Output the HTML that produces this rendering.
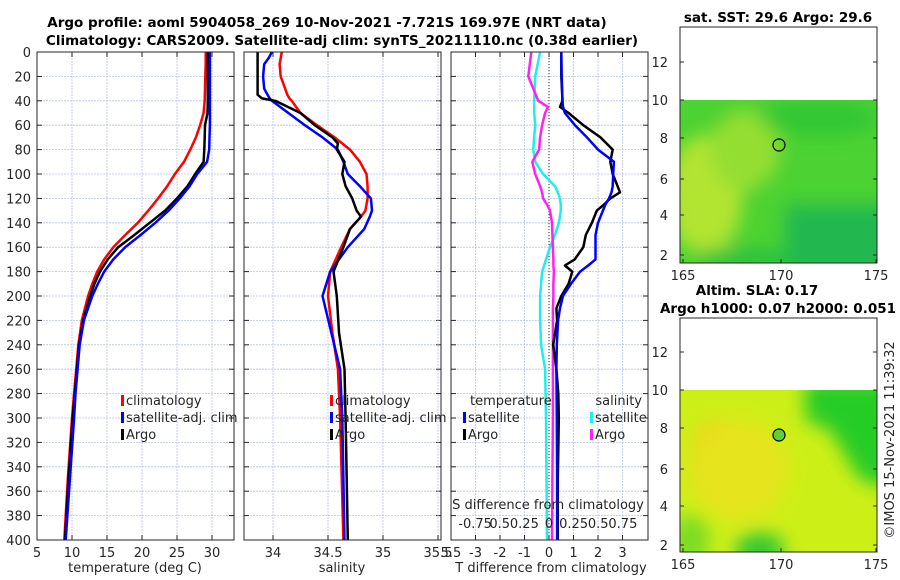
<!DOCTYPE html>
<html><head><meta charset="utf-8">
<style>
body{margin:0;background:#fff;}
svg{display:block;font-family:"DejaVu Sans","Liberation Sans",sans-serif;}
.t{font-size:13px;fill:#262626;}
.b{font-size:13.5px;font-weight:bold;fill:#000;}
</style></head>
<body>
<svg id="chart" width="900" height="580" viewBox="0 0 900 580">
<text class="b" x="327" y="27" text-anchor="middle">Argo profile: aoml 5904058_269 10-Nov-2021 -7.721S 169.97E (NRT data)</text>
<text class="b" x="342" y="45" text-anchor="middle">Climatology: CARS2009. Satellite-adj clim: synTS_20211110.nc (0.38d earlier)</text>
<g id="p1"></g>
<g id="p2"></g>
<g id="p3"></g>

<defs>
<filter id="bl" x="-20%" y="-20%" width="140%" height="140%"><feGaussianBlur stdDeviation="9"/></filter>
<clipPath id="c1"><rect x="680" y="100" width="197" height="163"/></clipPath>
<clipPath id="c2"><rect x="680" y="390" width="197" height="162"/></clipPath>
</defs>
<g>
<text class="b" x="778" y="22" text-anchor="middle">sat. SST: 29.6 Argo: 29.6</text>
<g clip-path="url(#c1)">
<rect x="680" y="100" width="197" height="163" fill="#4cd232"/>
<g filter="url(#bl)">
<ellipse cx="705" cy="195" rx="38" ry="60" fill="#b2e430"/>
<ellipse cx="745" cy="150" rx="35" ry="40" fill="#94de30"/>
<rect x="785" y="205" width="110" height="70" fill="#20b850"/>
<rect x="700" y="250" width="90" height="20" fill="#2cc040"/>
<ellipse cx="820" cy="118" rx="60" ry="18" fill="#30c834"/>
</g>
</g>
<rect x="680" y="27" width="197" height="236" fill="none" stroke="#262626" stroke-width="1"/>
<circle cx="779" cy="145" r="6" fill="none" stroke="#000" stroke-width="1.2"/>
</g>
<g>
<text class="b" x="757" y="295" text-anchor="middle">Altim. SLA: 0.17</text>
<text class="b" x="778" y="313" text-anchor="middle">Argo h1000: 0.07 h2000: 0.051</text>
<g clip-path="url(#c2)">
<rect x="680" y="390" width="197" height="162" fill="#cdef18"/>
<g filter="url(#bl)">
<ellipse cx="718" cy="465" rx="28" ry="45" fill="#f4cc1c"/>
<ellipse cx="740" cy="470" rx="48" ry="50" fill="#e6e41a"/>
<path d="M805,380 L900,380 L900,490 L860,480 L830,430 L805,420Z" fill="#28cc28"/>
<ellipse cx="760" cy="550" rx="25" ry="18" fill="#38c830"/>
<ellipse cx="690" cy="540" rx="20" ry="25" fill="#7cdc24"/>
</g>
</g>
<rect x="680" y="318" width="197" height="234" fill="none" stroke="#262626" stroke-width="1"/>
<circle cx="779" cy="435" r="6" fill="#5ed040" stroke="#000" stroke-width="1.2"/>
</g>
<text class="t" transform="translate(894,440) rotate(-90)" text-anchor="middle">©IMOS 15-Nov-2021 11:39:32</text>
</svg>
<script>
const NS='http://www.w3.org/2000/svg';
const svg=document.getElementById('chart');
const depthTicks=[0,20,40,60,80,100,120,140,160,180,200,220,240,260,280,300,320,340,360,380,400];
const tempTicks=[5,10,15,20,25,30];
const salTicks=[34,34.5,35,35.5];
const tdiffTicks=[-3,-2,-1,0,1,2,3];
const sdiffTickLabels=['-0.75','0.5','0.25','0','0.25','0.5','0.75'];

const depths=[0,10,20,30,40,50,60,70,80,90,100,110,120,130,140,150,160,170,180,190,200,220,240,260,280,300,350,400];
const tempClim=[29.1,29.1,29.05,29.0,28.95,28.8,28.3,27.7,26.9,26.0,24.7,23.6,22.3,20.9,19.4,17.6,15.9,14.6,13.6,12.9,12.3,11.4,10.9,10.6,10.3,10.0,9.4,8.9];
const tempSat=[29.7,29.7,29.7,29.7,29.7,29.7,29.7,29.65,29.6,29.3,27.9,26.8,25.4,23.8,21.9,19.8,17.6,15.9,14.6,13.7,12.9,11.7,11.1,10.8,10.5,10.3,9.7,9.1];
const tempArgo=[29.4,29.4,29.4,29.4,29.4,29.35,29.0,28.95,28.9,28.8,27.6,26.5,25.0,23.3,21.1,18.9,16.6,15.1,14.0,13.2,12.6,11.6,11.0,10.7,10.4,10.1,9.5,9.0];

const sDepths=[0,5,10,20,30,35,38,40,50,60,70,75,80,90,100,110,120,130,135,145,160,180,200,230,260,300,400];
const salClim=[34.08,34.07,34.06,34.07,34.11,34.13,34.15,34.17,34.25,34.40,34.56,34.63,34.70,34.79,34.85,34.86,34.86,34.84,34.80,34.70,34.62,34.52,34.50,34.54,34.59,34.61,34.64];
const salSat=[33.99,33.96,33.92,33.91,33.92,33.95,33.97,33.99,34.14,34.29,34.45,34.52,34.59,34.64,34.68,34.79,34.89,34.90,34.88,34.83,34.68,34.52,34.45,34.53,34.61,34.63,34.65];
const salArgo=[33.86,33.86,33.86,33.86,33.86,33.86,33.90,34.02,34.25,34.38,34.54,34.59,34.58,34.65,34.63,34.66,34.72,34.76,34.80,34.70,34.64,34.55,34.58,34.60,34.65,34.66,34.68];

const dDepths=[0,20,40,45,50,60,70,80,90,100,110,115,120,125,130,140,150,160,170,175,180,190,200,210,220,240,260,280,300,350,400];
const tdSat=[0.50,0.52,0.55,0.57,0.65,1.06,1.55,2.0,2.65,2.62,2.6,2.55,2.45,2.3,2.2,2.0,1.9,1.9,1.9,1.6,1.27,0.9,0.57,0.45,0.37,0.32,0.30,0.31,0.32,0.33,0.33];
const tdArgo=[0.5,0.5,0.55,0.45,0.8,1.4,2.1,2.6,2.5,2.6,2.8,2.9,2.5,2.25,1.95,1.75,1.5,1.4,1.05,0.65,0.95,0.8,0.5,0.3,0.33,0.17,0.3,0.38,0.4,0.36,0.36];
const sdSat=[-0.09,-0.14,-0.15,-0.15,-0.15,-0.14,-0.15,-0.16,-0.14,-0.06,0.06,0.09,0.11,0.12,0.12,0.10,0.06,0.01,-0.03,-0.05,-0.07,-0.08,-0.09,-0.09,-0.09,-0.08,-0.04,-0.035,-0.03,-0.025,-0.02];
const sdArgo=[-0.18,-0.21,-0.11,-0.01,-0.04,-0.07,-0.09,-0.10,-0.17,-0.14,-0.09,-0.07,-0.06,-0.02,0.01,0.03,0.035,0.04,0.045,0.045,0.05,0.045,0.045,0.04,0.04,0.04,0.04,0.04,0.04,0.035,0.03];

const Y0=52, Y1=540;
const yD=d=>Y0+(d-0)/(400-0)*(Y1-Y0);

function el(tag,attrs,parent){const e=document.createElementNS(NS,tag);for(const k in attrs)e.setAttribute(k,attrs[k]);(parent||svg).appendChild(e);return e;}

function frame(g,x0,x1,xt,showDepth){
  for(const d of depthTicks){
    const y=yD(d);
    const l=el('line',{x1:x0,x2:x1,y1:y,y2:y,stroke:'#b8c4dc','stroke-width':0.8,'stroke-dasharray':'2,1'},g);
    
    
    el('line',{x1:x0,x2:x0+5,y1:y,y2:y,stroke:'#262626'},g);
    el('line',{x1:x1-5,x2:x1,y1:y,y2:y,stroke:'#262626'},g);
    if(showDepth){const t=el('text',{x:x0-6,y:y+5,'text-anchor':'end',class:'t'},g);t.textContent=d;
      
      }
  }
  for(const x of xt){
    const l=el('line',{x1:x,x2:x,y1:Y0,y2:Y1,stroke:'#b8c4dc','stroke-width':0.8,'stroke-dasharray':'2,1'},g);
    
    
    el('line',{x1:x,x2:x,y1:Y1,y2:Y1-5,stroke:'#262626'},g);
    el('line',{x1:x,x2:x,y1:Y0,y2:Y0+5,stroke:'#262626'},g);
  }
}
function box(g,x0,x1){const r=el('rect',{x:x0,y:Y0,width:x1-x0,height:Y1-Y0,fill:'none',stroke:'#262626','stroke-width':1},g);
  
  }
function line(g,xs,ds,xf,color,name){
  const pts=xs.map((v,i)=>xf(v).toFixed(1)+','+yD(ds[i]).toFixed(1)).join(' ');
  const p=el('polyline',{points:pts,fill:'none',stroke:color,'stroke-width':2.5,'stroke-linejoin':'round'},g);
  
  
}
function txt(g,x,y,s,anchor,name){const t=el('text',{x:x,y:y,'text-anchor':anchor||'start',class:'t'},g);t.textContent=s;
  
  return t;}
function legendItem(g,x,y,color,label,name){
  const r=el('rect',{x:x,y:y-10,width:3,height:11,fill:color},g);
  
  
  txt(g,x+5,y,label,'start',name);
}

const p1=document.getElementById('p1');
const xT=v=>37+(v-5)*7;
frame(p1,37,234,tempTicks.map(xT),true);
line(p1,tempClim,depths,xT,'#ff0000','climatology-temp-line');
line(p1,tempArgo,depths,xT,'#000000','argo-temp-line');
line(p1,tempSat,depths,xT,'#0000ff','satellite-temp-line');
box(p1,37,234);
tempTicks.forEach(v=>txt(p1,xT(v),557,String(v),'middle','temp-tick-label'));
txt(p1,135,572,'temperature (deg C)','middle','temp-axis-title');
legendItem(p1,121,405,'#ff0000','climatology','legend-climatology');
legendItem(p1,121,422,'#0000ff','satellite-adj. clim','legend-satellite-adj');
legendItem(p1,121,439,'#000000','Argo','legend-argo');

const p2=document.getElementById('p2');
const xS=v=>273+(v-34)*110;
frame(p2,244,441,salTicks.map(xS),false);
line(p2,salClim,sDepths,xS,'#ff0000','climatology-sal-line');
line(p2,salSat,sDepths,xS,'#0000ff','satellite-sal-line');
line(p2,salArgo,sDepths,xS,'#000000','argo-sal-line');
box(p2,244,441);
salTicks.forEach(v=>txt(p2,xS(v),557,String(v),'middle','sal-tick-label'));
txt(p2,342,572,'salinity','middle','sal-axis-title');
legendItem(p2,330,405,'#ff0000','climatology','legend-climatology-2');
legendItem(p2,330,422,'#0000ff','satellite-adj. clim','legend-satellite-adj-2');
legendItem(p2,330,439,'#000000','Argo','legend-argo-2');

const p3=document.getElementById('p3');
const xTd=v=>549+v*24.5;
const xSd=v=>549+v*98.5;
frame(p3,451,648,tdiffTicks.map(xTd),false);
const z=el('line',{x1:549,x2:549,y1:Y0,y2:Y1,stroke:'#333','stroke-width':1,'stroke-dasharray':'1,2'},p3);


line(p3,sdSat,dDepths,xSd,'#22ecec','salinity-diff-satellite-line');
line(p3,sdArgo,dDepths,xSd,'#ff22ee','salinity-diff-argo-line');
line(p3,tdArgo,dDepths,xTd,'#000000','temp-diff-argo-line');
line(p3,tdSat,dDepths,xTd,'#0000ff','temp-diff-satellite-line');
box(p3,451,648);
tdiffTicks.forEach(v=>txt(p3,xTd(v),557,String(v),'middle','tdiff-tick-label'));
txt(p3,451,557,'5.5','middle','tdiff-edge-label');
txt(p3,551,572,'T difference from climatology','middle','tdiff-axis-title');
txt(p3,548,509,'S difference from climatology','middle','sdiff-axis-title');
const sx=[-0.75,-0.5,-0.25,0,0.25,0.5,0.75];
sdiffTickLabels.forEach((s,i)=>txt(p3,xSd(sx[i]),528,s,'middle','sdiff-tick-label'));
txt(p3,470,405,'temperature','start','legend-temperature-heading');
txt(p3,642,405,'salinity','end','legend-salinity-heading');
legendItem(p3,463,422,'#0000ff','satellite','legend-temp-satellite');
legendItem(p3,463,439,'#000000','Argo','legend-temp-argo');
legendItem(p3,590,422,'#22ecec','satellite','legend-sal-satellite');
legendItem(p3,590,439,'#ff22ee','Argo','legend-sal-argo');

function mapAxes(top,bottom,yTicks,yLab,name){
  const g=el('g',{});
  
  
  yTicks.forEach((y,i)=>{
    el('line',{x1:680,x2:684,y1:y,y2:y,stroke:'#262626'},g);
    el('line',{x1:873,x2:877,y1:y,y2:y,stroke:'#262626'},g);
    txt(g,668,y+5,yLab[i],'end','map-lat-label');
  });
  [['165',683],['170',781],['175',876]].forEach(([s,x])=>{
    el('line',{x1:x,x2:x,y1:bottom,y2:bottom-4,stroke:'#262626'},g);
    txt(g,x,bottom+17,s,'middle','map-lon-label');
  });
}
const latLabels=['12','10','8','6','4','2'];
mapAxes(27,263,[62,100,138,179,215,255],latLabels,'sst-map-axes');
mapAxes(318,552,[352,390,428,469,506,545],latLabels,'sla-map-axes');
</script>
</body></html>
